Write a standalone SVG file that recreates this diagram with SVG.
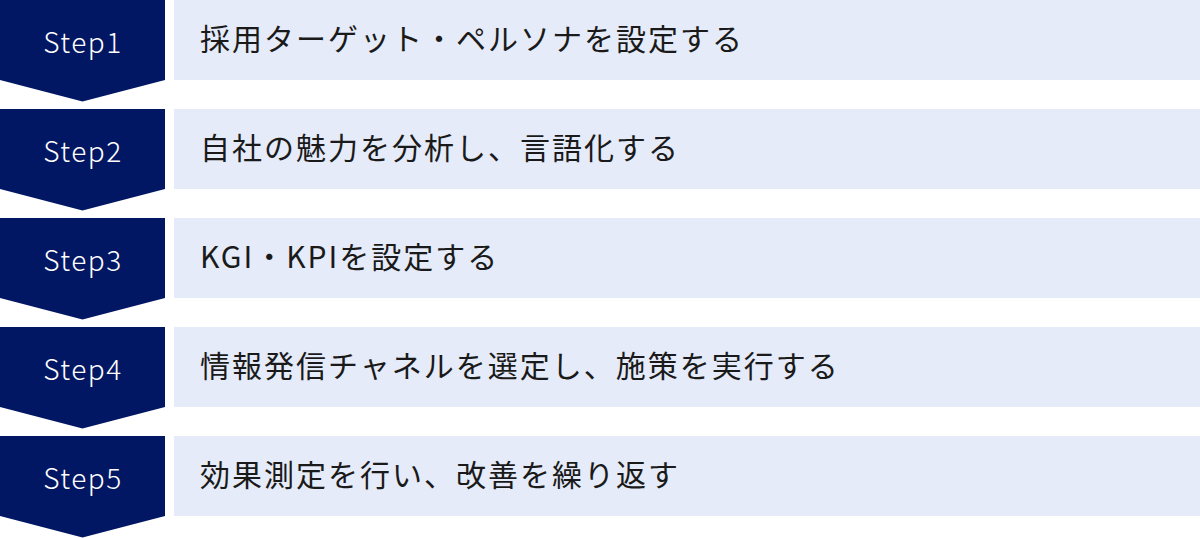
<svg xmlns="http://www.w3.org/2000/svg" width="1200" height="538" viewBox="0 0 1200 538">
<defs>
<style>
.chev{fill:#021763}
.box{fill:#E5EBF8}
.st{font-family:"Noto Sans CJK JP","Noto Sans",sans-serif;font-size:28px;font-weight:300;fill:#fff;text-anchor:middle;letter-spacing:1.5px}
.lb{font-family:"Noto Sans CJK JP","Noto Sans",sans-serif;font-size:30px;fill:#1a1a1a;letter-spacing:2px}
</style>
<path id="chevshape" class="chev" d="M0,0H165V80L82.5,101.5L0,80Z"/>
</defs>
<g id="connectors"></g>
<g id="step1"><use href="#chevshape"/><rect class="box" x="174" y="0" width="1026" height="80"/><text class="st" x="83" y="52.5">Step1</text><text class="lb" x="200" y="50">採用ターゲット・ペルソナを設定する</text></g>
<g id="step2" transform="translate(0,109)"><use href="#chevshape"/><rect class="box" x="174" y="0" width="1026" height="80"/><text class="st" x="83" y="52.5">Step2</text><text class="lb" x="200" y="50">自社の魅力を分析し、言語化する</text></g>
<g id="step3" transform="translate(0,218)"><use href="#chevshape"/><rect class="box" x="174" y="0" width="1026" height="80"/><text class="st" x="83" y="52.5">Step3</text><text class="lb" x="200" y="50">KGI・KPIを設定する</text></g>
<g id="step4" transform="translate(0,327)"><use href="#chevshape"/><rect class="box" x="174" y="0" width="1026" height="80"/><text class="st" x="83" y="52.5">Step4</text><text class="lb" x="200" y="50">情報発信チャネルを選定し、施策を実行する</text></g>
<g id="step5" transform="translate(0,436)"><use href="#chevshape"/><rect class="box" x="174" y="0" width="1026" height="80"/><text class="st" x="83" y="52.5">Step5</text><text class="lb" x="200" y="50">効果測定を行い、改善を繰り返す</text></g>
</svg>
